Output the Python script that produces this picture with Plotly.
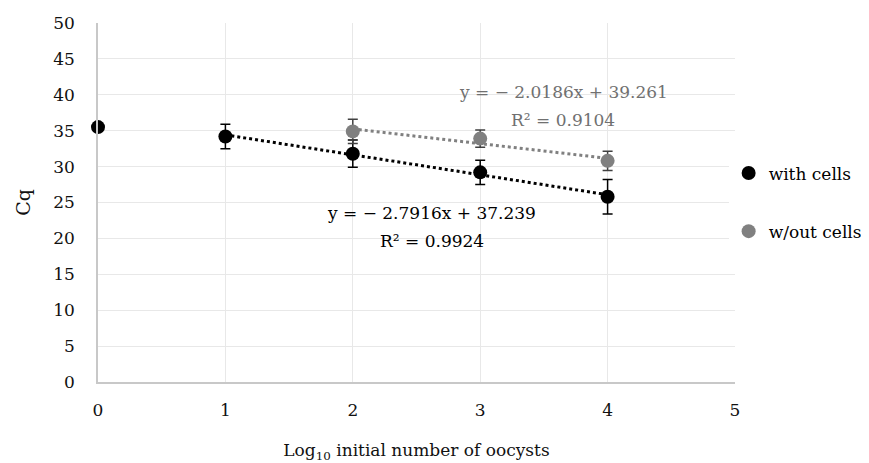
import numpy as np
import plotly.graph_objects as go

# ---- data ----
x_with = [0, 1, 2, 3, 4]
cq_with = [35.5, 34.2, 31.8, 29.2, 25.8]
err_with = [0, 1.7, 1.9, 1.7, 2.4]

x_without = [2, 3, 4]
cq_without = [34.9, 33.9, 30.8]
err_without = [1.7, 1.2, 1.35]

series_names = ["with cells", "w/out cells"]
eq_with = ["y = − 2.7916x + 37.239", "R² = 0.9924"]
eq_without = ["y = − 2.0186x + 39.261", "R² = 0.9104"]

x_ticks = [0, 1, 2, 3, 4, 5]
y_ticks = [0, 5, 10, 15, 20, 25, 30, 35, 40, 45, 50]

FONT = "DejaVu Serif"
BLACK = "#000000"
GREY = "#808080"

fig = go.Figure()

# trendlines (fit on x >= 1 for "with cells")
xf = np.array(x_with[1:], dtype=float)
yf = np.array(cq_with[1:], dtype=float)
m1, b1 = np.polyfit(xf, yf, 1)
fig.add_trace(go.Scatter(x=[xf.min(), xf.max()], y=[m1 * xf.min() + b1, m1 * xf.max() + b1],
                         mode="lines", line=dict(color=BLACK, width=3, dash="dot"),
                         showlegend=False, hoverinfo="skip"))
xg = np.array(x_without, dtype=float)
yg = np.array(cq_without, dtype=float)
m2, b2 = np.polyfit(xg, yg, 1)
fig.add_trace(go.Scatter(x=[xg.min(), xg.max()], y=[m2 * xg.min() + b2, m2 * xg.max() + b2],
                         mode="lines", line=dict(color=GREY, width=3, dash="dot"),
                         showlegend=False, hoverinfo="skip"))

fig.add_trace(go.Scatter(x=x_with, y=cq_with, mode="markers", name=series_names[0],
                         legendgroup="a", cliponaxis=False,
                         marker=dict(color=BLACK, size=14),
                         error_y=dict(type="data", array=err_with, visible=True,
                                      color=BLACK, thickness=1.5, width=5)))
fig.add_trace(go.Scatter(x=x_without, y=cq_without, mode="markers", name=series_names[1],
                         legendgroup="b", cliponaxis=False,
                         marker=dict(color=GREY, size=14),
                         error_y=dict(type="data", array=err_without, visible=True,
                                      color="#404040", thickness=1.5, width=5)))

ann_font = dict(family=FONT, size=17)
annotations = [
    dict(x=3.65, y=40.4, text=eq_without[0], font=dict(ann_font, color="#707070")),
    dict(x=3.65, y=36.5, text=eq_without[1], font=dict(ann_font, color="#707070")),
    dict(x=2.62, y=23.6, text=eq_with[0], font=dict(ann_font, color=BLACK)),
    dict(x=2.62, y=19.6, text=eq_with[1], font=dict(ann_font, color=BLACK)),
]
for a in annotations:
    fig.add_annotation(xref="x", yref="y", showarrow=False, xanchor="center", yanchor="middle", **a)

# page body has an 8px default margin, so the figure is 8px smaller and shifted
fig.update_layout(
    width=861, height=455,
    margin=dict(l=90, r=134, t=15, b=81, autoexpand=False),
    paper_bgcolor="white", plot_bgcolor="white",
    font=dict(family=FONT, size=17, color="#111111"),
    legend=dict(x=0.99, y=0.5, xanchor="left", yanchor="middle",
                font=dict(family=FONT, size=17, color=BLACK),
                tracegroupgap=33, itemwidth=30),
    showlegend=True,
)
fig.update_xaxes(range=[0, 5], tickvals=x_ticks, showgrid=True, gridcolor="#e8e8e8", gridwidth=1,
                 zeroline=False, showline=True, linecolor="#c8c8c8", linewidth=1.5,
                 ticks="", ticklabelstandoff=12, tickfont=dict(size=17), automargin=False,
                 title=dict(text="Log<sub>10</sub> initial number of oocysts", standoff=25,
                            font=dict(size=17)))
fig.update_yaxes(range=[0, 50], tickvals=y_ticks, showgrid=True, gridcolor="#e8e8e8", gridwidth=1,
                 zeroline=False, showline=True, linecolor="#c8c8c8", linewidth=1.5,
                 ticks="", ticklabelstandoff=18, tickfont=dict(size=17), automargin=False,
                 title=dict(text="Cq", standoff=18, font=dict(size=19)))

fig.write_html("out.html")
